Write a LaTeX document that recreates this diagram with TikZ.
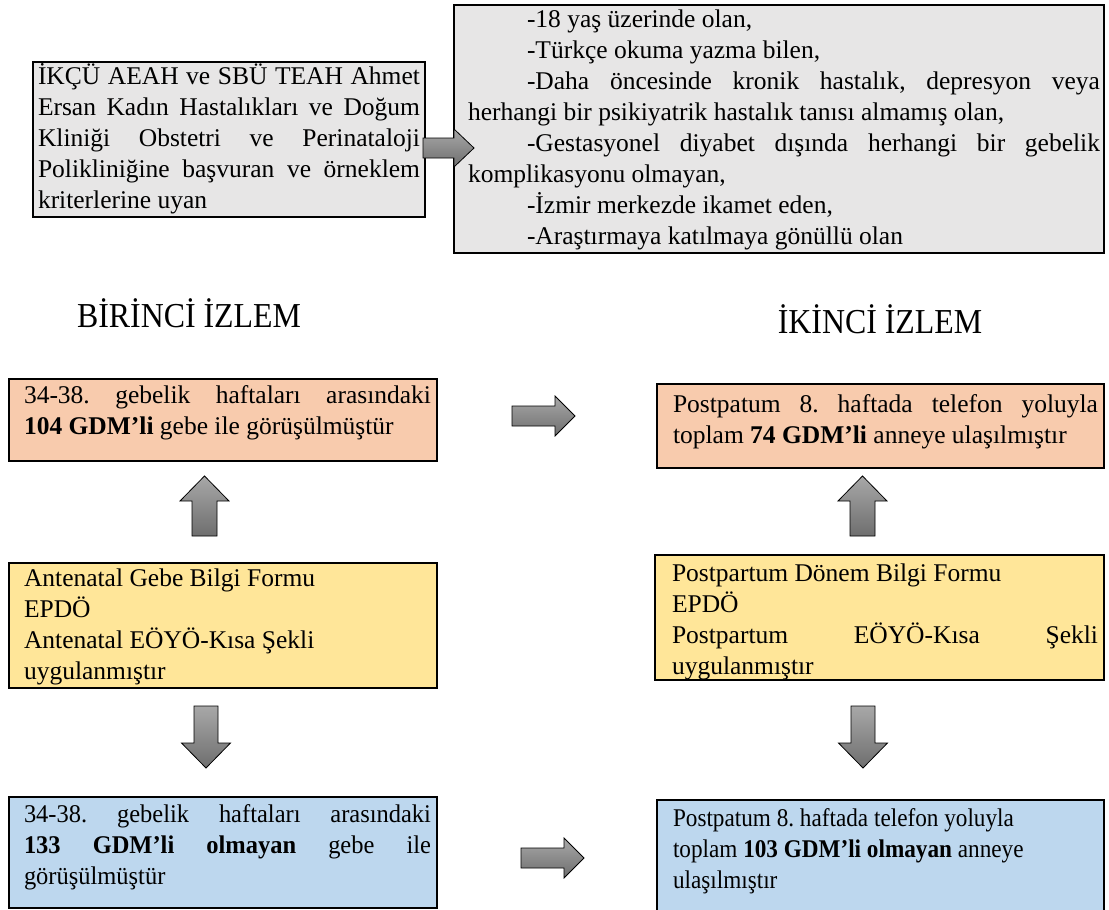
\documentclass[tikz,border=0pt]{standalone}
\usepackage{fontspec}
\setmainfont{Liberation Serif}
\newfontfamily\condserif{Liberation Serif}[FakeStretch=0.91]
\newfontfamily\semicondserif{Liberation Serif}[FakeStretch=0.96]
\newfontfamily\titleserif{Liberation Serif}[FakeStretch=0.91]
\frenchspacing
\definecolor{boxgray}{HTML}{E7E6E6}
\definecolor{boxorange}{HTML}{F8CBAD}
\definecolor{boxyellow}{HTML}{FFE699}
\definecolor{boxblue}{HTML}{BDD7EE}
\definecolor{arrtop}{HTML}{A8A8A8}
\definecolor{arrbot}{HTML}{6E6E6E}
\tikzset{
  frame/.style={draw=black, line width=2pt, inner sep=0pt, outer sep=0pt, anchor=north west},
  body/.style={inner sep=0pt, outer sep=0pt, anchor=base west, font=\frenchspacing\fontsize{25.5pt}{31pt}\selectfont},
  heading/.style={inner sep=0pt, anchor=base, font=\titleserif\fontsize{35pt}{40pt}\selectfont},
  blockarrow/.style={draw=black, line width=0.8pt, top color=arrtop, bottom color=arrbot, line join=miter},
}
\newcommand\jpar[2]{\parbox[t]{#1}{\frenchspacing\tolerance=10000\hbadness=10000\hyphenpenalty=10000\exhyphenpenalty=10000 #2}}
\begin{document}
\begin{tikzpicture}[x=1pt,y=-1pt]
\useasboundingbox (0,0) rectangle (1109,910);
\fill[white] (0,0) rectangle (1109,910);
\clip (0,0) rectangle (1109,910);
% boxes
\node[frame, fill=boxgray, minimum width=392pt, minimum height=155pt] (b1) at (33,62) {};
\node[frame, fill=boxgray, minimum width=650pt, minimum height=248pt] (b2) at (454,5) {};
\node[frame, fill=boxorange, minimum width=428pt, minimum height=82pt] (b3) at (9,379) {};
\node[frame, fill=boxorange, minimum width=447pt, minimum height=84pt] (b4) at (657,384) {};
\node[frame, fill=boxyellow, minimum width=428pt, minimum height=125pt] (b5) at (9,563) {};
\node[frame, fill=boxyellow, minimum width=449pt, minimum height=125pt] (b6) at (655,555) {};
\node[frame, fill=boxblue, minimum width=428pt, minimum height=111pt] (b7) at (9,797) {};
\node[frame, fill=boxblue, minimum width=447pt, minimum height=130pt] (b8) at (657,800) {};
% texts
\node[body] (t1) at (38,84.5) {\jpar{382pt}{İKÇÜ AEAH ve SBÜ TEAH Ahmet\linebreak Ersan Kadın Hastalıkları ve Doğum\linebreak Kliniği Obstetri ve Perinataloji\linebreak Polikliniğine başvuran ve örneklem\linebreak kriterlerine uyan}};
\node[body] (t2) at (468,27.5) {\jpar{632pt}{\hspace*{59pt}-18 yaş üzerinde olan,\par
\hspace*{59pt}-Türkçe okuma yazma bilen,\par
\hspace*{59pt}-Daha öncesinde kronik hastalık, depresyon veya\linebreak herhangi bir psikiyatrik hastalık tanısı almamış olan,\par
\hspace*{59pt}-Gestasyonel diyabet dışında herhangi bir gebelik\linebreak komplikasyonu olmayan,\par
\hspace*{59pt}-İzmir merkezde ikamet eden,\par
\hspace*{59pt}-Araştırmaya katılmaya gönüllü olan}};
\node[body] (t3) at (24,403.5) {\jpar{407pt}{34-38. gebelik haftaları arasındaki\linebreak \textbf{104 GDM’li} gebe ile görüşülmüştür}};
\node[body] (t4) at (673,412.5) {\jpar{425pt}{Postpatum 8. haftada telefon yoluyla\linebreak toplam \textbf{74 GDM’li} anneye ulaşılmıştır}};
\node[body] (t5) at (24,586.5) {\jpar{407pt}{Antenatal Gebe Bilgi Formu\\ EPDÖ\\ Antenatal EÖYÖ-Kısa Şekli\\ uygulanmıştır}};
\node[body] (t6) at (672,581.5) {\jpar{426pt}{Postpartum Dönem Bilgi Formu\\ EPDÖ\\ Postpartum EÖYÖ-Kısa Şekli\linebreak uygulanmıştır}};
\node[body] (t7) at (24,822.5) {\jpar{407pt}{\semicondserif 34-38. gebelik haftaları arasındaki\linebreak \textbf{133 GDM’li olmayan} gebe ile\linebreak görüşülmüştür}};
\node[body] (t8) at (673,826.5) {\parbox[t]{430pt}{\frenchspacing\condserif Postpatum 8. haftada telefon yoluyla\\ toplam \textbf{103 GDM’li olmayan} anneye\\ ulaşılmıştır}};
% headings
\node[heading] (h1) at (189,327) {BİRİNCİ İZLEM};
\node[heading] (h2) at (880,333) {İKİNCİ İZLEM};
% block arrows
\path[blockarrow] (423,138) -- (454,138) -- (454,129) -- (474,148) -- (454,167) -- (454,158) -- (423,158) -- cycle;
\path[blockarrow] (512,406) -- (555,406) -- (555,396) -- (575,416) -- (555,436) -- (555,426) -- (512,426) -- cycle;
\path[blockarrow] (521,848) -- (564,848) -- (564,838) -- (584,858) -- (564,878) -- (564,868) -- (521,868) -- cycle;
\path[blockarrow] (192,536) -- (192,501) -- (180,501) -- (204.5,476) -- (229,501) -- (217,501) -- (217,536) -- cycle;
\path[blockarrow] (850,536) -- (850,501) -- (838,501) -- (862.5,476) -- (887,501) -- (875,501) -- (875,536) -- cycle;
\path[blockarrow] (194,706) -- (218,706) -- (218,743) -- (230.5,743) -- (206,768) -- (181.5,743) -- (194,743) -- cycle;
\path[blockarrow] (851,706) -- (875,706) -- (875,743) -- (887.5,743) -- (863,768) -- (838.5,743) -- (851,743) -- cycle;
\end{tikzpicture}
\end{document}
